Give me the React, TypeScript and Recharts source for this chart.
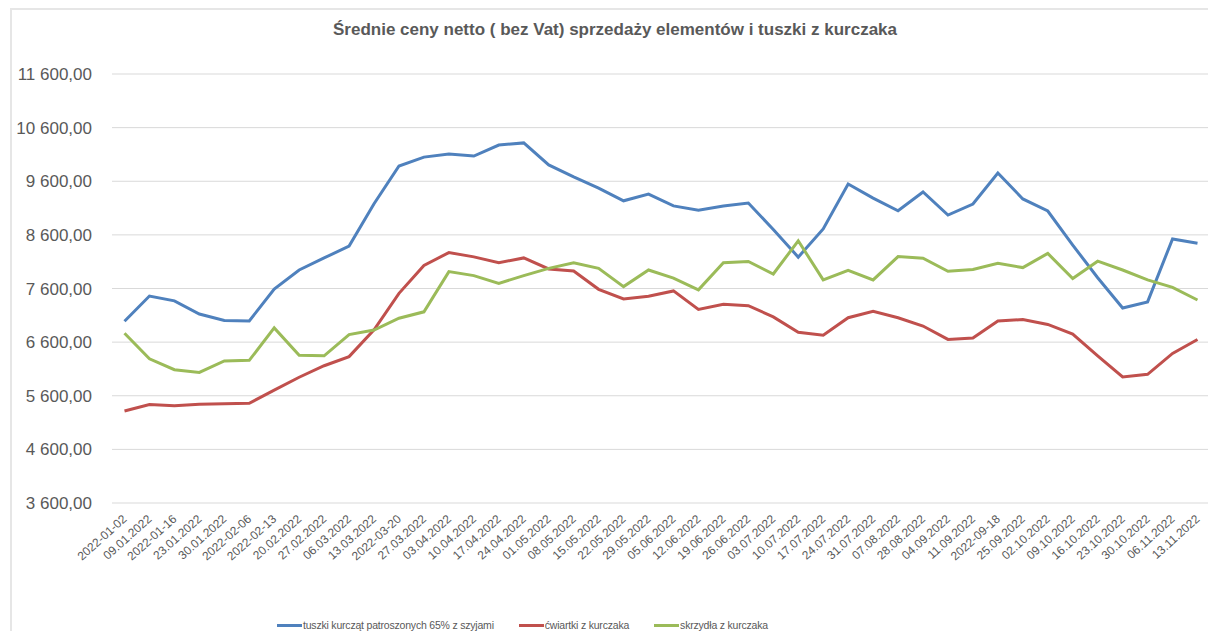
import React from 'react';
import { LineChart, Line, XAxis, YAxis, CartesianGrid, Legend } from 'recharts';

const weeks = [
  '2022-01-02', '09.01.2022', '2022-01-16', '23.01.2022', '30.01.2022', '2022-02-06',
  '2022-02-13', '20.02.2022', '27.02.2022', '06.03.2022', '13.03.2022', '2022-03-20',
  '27.03.2022', '03.04.2022', '10.04.2022', '17.04.2022', '24.04.2022', '01.05.2022',
  '08.05.2022', '15.05.2022', '22.05.2022', '29.05.2022', '05.06.2022', '12.06.2022',
  '19.06.2022', '26.06.2022', '03.07.2022', '10.07.2022', '17.07.2022', '24.07.2022',
  '31.07.2022', '07.08.2022', '28.08.2022', '04.09.2022', '11.09.2022', '2022-09-18',
  '25.09.2022', '02.10.2022', '09.10.2022', '16.10.2022', '23.10.2022', '30.10.2022',
  '06.11.2022', '13.11.2022',
];

const tuszki = [
  6990, 7460, 7370, 7125, 7005, 6995, 7590, 7945, 8170, 8390, 9180, 9885,
  10050, 10110, 10070, 10275, 10315, 9905, 9680, 9470, 9235, 9360, 9140, 9060,
  9140, 9195, 8700, 8185, 8710, 9550, 9285, 9050, 9400, 8970, 9175, 9755,
  9270, 9045, 8410, 7800, 7235, 7350, 8525, 8445,
];

const cwiartki = [
  5315, 5435, 5415, 5440, 5450, 5460, 5705, 5945, 6160, 6330, 6830, 7510,
  8030, 8270, 8190, 8080, 8170, 7965, 7925, 7585, 7405, 7455, 7555, 7210,
  7305, 7280, 7070, 6785, 6730, 7055, 7175, 7055, 6900, 6650, 6675, 6995,
  7020, 6930, 6750, 6345, 5950, 6000, 6390, 6650,
];

const skrzydla = [
  6765, 6290, 6085, 6035, 6250, 6260, 6865, 6355, 6345, 6740, 6825, 7045,
  7165, 7915, 7840, 7695, 7840, 7975, 8080, 7975, 7635, 7945, 7795, 7575,
  8080, 8105, 7870, 8490, 7760, 7940, 7760, 8195, 8165, 7920, 7955, 8070,
  7990, 8255, 7785, 8110, 7945, 7760, 7620, 7385,
];

const yTicks = [3600, 4600, 5600, 6600, 7600, 8600, 9600, 10600, 11600];

const seriesNames = [
  'tuszki kurcząt patroszonych 65% z szyjami',
  'ćwiartki z kurczaka',
  'skrzydła z kurczaka',
];

const data = weeks.map((w, i) => ({
  week: w,
  tuszki: tuszki[i],
  cwiartki: cwiartki[i],
  skrzydla: skrzydla[i],
}));

const FONT = 'Liberation Sans, Arial, sans-serif';

const fmt = (v: number) => {
  const [int, dec] = v.toFixed(2).split('.');
  return int.replace(/\B(?=(\d{3})+(?!\d))/g, ' ') + ',' + dec;
};

const XTick = (props: any) => {
  const { x, y, payload } = props;
  return (
    <g transform={`translate(${x + 3},${y + 9})`}>
      <text textAnchor="end" transform="rotate(-42)" fontSize={12} fill="#595959" fontFamily={FONT}>
        {payload.value}
      </text>
    </g>
  );
};

const LegendContent = (props: any) => {
  const items = [...(props.payload || [])].sort(
    (a: any, b: any) => seriesNames.indexOf(a.value) - seriesNames.indexOf(b.value)
  );
  return (
    <div style={{ display: 'flex', justifyContent: 'flex-start', gap: 25, paddingLeft: 267, paddingTop: 18 }}>
      {items.map((it: any) => (
        <div key={it.value} style={{ display: 'flex', alignItems: 'center' }}>
          <span style={{ display: 'inline-block', width: 25, height: 3, background: it.color, marginRight: 1 }} />
          <span style={{ fontSize: 10.5, letterSpacing: -0.2, color: '#595959', fontFamily: FONT }}>
            {it.value}
          </span>
        </div>
      ))}
    </div>
  );
};

export default function App() {
  return (
    <div style={{ position: 'relative', width: 1216, height: 639, margin: -8, background: '#fff', overflow: 'hidden' }}>
      <div
        style={{
          position: 'absolute',
          left: 10,
          top: 8,
          width: 1220,
          height: 660,
          border: '2px solid #e6e6e6',
          boxSizing: 'border-box',
        }}
      />
      <div
        style={{
          position: 'absolute',
          left: 10,
          top: 20,
          width: 1210,
          textAlign: 'center',
          fontSize: 17,
          fontWeight: 'bold',
          color: '#595959',
          fontFamily: FONT,
        }}
      >
        Średnie ceny netto ( bez Vat) sprzedaży elementów i tuszki z kurczaka
      </div>
      <div style={{ position: 'absolute', left: 0, top: 0 }}>
        <LineChart width={1216} height={639} data={data} margin={{ top: 74, right: 6, bottom: 8, left: 10 }}>
          <CartesianGrid vertical={false} stroke="#d9d9d9" />
          <XAxis
            dataKey="week"
            interval={0}
            axisLine={false}
            tickLine={false}
            padding={{ left: 12.5, right: 12.5 }}
            height={98}
            tick={<XTick />}
          />
          <YAxis
            type="number"
            domain={[3600, 11600]}
            ticks={yTicks}
            interval={0}
            axisLine={false}
            tickLine={false}
            tickSize={0}
            tickMargin={20}
            width={102}
            tickFormatter={fmt}
            tick={{ fontSize: 17, fill: '#595959', fontFamily: FONT }}
          />
          <Legend verticalAlign="bottom" height={30} content={<LegendContent />} />
          <Line
            name={seriesNames[0]}
            dataKey="tuszki"
            stroke="#4f81bd"
            strokeWidth={3}
            dot={false}
            isAnimationActive={false}
          />
          <Line
            name={seriesNames[1]}
            dataKey="cwiartki"
            stroke="#c0504d"
            strokeWidth={3}
            dot={false}
            isAnimationActive={false}
          />
          <Line
            name={seriesNames[2]}
            dataKey="skrzydla"
            stroke="#9bbb59"
            strokeWidth={3}
            dot={false}
            isAnimationActive={false}
          />
        </LineChart>
      </div>
    </div>
  );
}
